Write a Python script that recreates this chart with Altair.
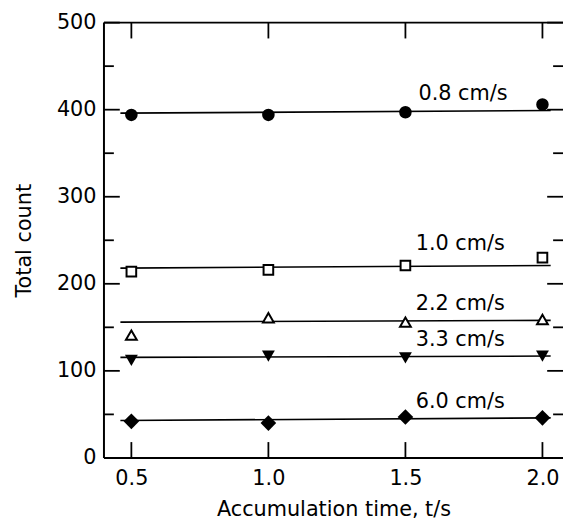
import altair as alt
import pandas as pd

# ---- data ----
times = [0.5, 1.0, 1.5, 2.0]
series = ["0.8 cm/s", "1.0 cm/s", "2.2 cm/s", "3.3 cm/s", "6.0 cm/s"]
c_08 = [394, 394, 397, 406]
c_10 = [214, 216, 221, 230]
c_22 = [141, 161, 156, 159]
c_33 = [112, 117, 115, 117]
c_60 = [42, 40, 47, 46]
fit_x = [0.46, 2.03]
fit_start = [396, 218, 156, 115.5, 43]
fit_end = [399, 221, 158, 117, 46]
label_x = [1.71, 1.70, 1.70, 1.70, 1.70]
label_y = [418, 246, 177, 135, 64]
x_ticks = [0.5, 1.0, 1.5, 2.0]
y_major = [0, 100, 200, 300, 400, 500]
y_minor = [50, 150, 250, 350, 450]

shapes = ["circle", "square", "triangle-up", "triangle-down", "diamond"]
sizes = [160, 95, 120, 170, 250]
filled = [True, False, False, True, True]

W, H = 464, 440
FONT = "DejaVu Sans"
xs = alt.Scale(domain=[0.4, 2.075], nice=False, zero=False)
ys = alt.Scale(domain=[0, 500], nice=False)
x_axis = alt.Axis(values=x_ticks, format=".1f", title="Accumulation time, t/s",
                  domain=False, ticks=False, grid=False, labelPadding=10, titlePadding=10)
y_axis = alt.Axis(values=y_major, title="Total count", domain=False,
                  ticks=False, grid=False, labelPadding=8, titlePadding=22)


def X(field):
    return alt.X(field, scale=xs, axis=x_axis)


def Y(field):
    return alt.Y(field, scale=ys, axis=y_axis)


all_counts = [c_08, c_10, c_22, c_33, c_60]
layers = []

# fitted lines
fit_df = pd.DataFrame({"s": series, "x0": [fit_x[0]] * 5, "x1": [fit_x[1]] * 5,
                       "y0": fit_start, "y1": fit_end})
layers.append(alt.Chart(fit_df).mark_rule(color="black", strokeWidth=1.6).encode(
    x=X("x0:Q"), x2="x1:Q", y=Y("y0:Q"), y2="y1:Q"))

# markers
for s, cs, sh, sz, f in zip(series, all_counts, shapes, sizes, filled):
    df = pd.DataFrame({"t": times, "c": cs})
    if f:
        mk = alt.Chart(df).mark_point(shape=sh, size=sz, filled=True, color="black", opacity=1)
    else:
        mk = alt.Chart(df).mark_point(shape=sh, size=sz, fill="white", stroke="black",
                                      strokeWidth=2, opacity=1, fillOpacity=1)
    layers.append(mk.encode(x=X("t:Q"), y=Y("c:Q")))

# series labels
lab_df = pd.DataFrame({"s": series, "x": label_x, "y": label_y})
layers.append(alt.Chart(lab_df).mark_text(font=FONT, fontSize=21, color="black").encode(
    x=X("x:Q"), y=Y("y:Q"), text="s:N"))

# frame (left, bottom, top)
frame_df = pd.DataFrame({"k": [0]})
frame = [
    dict(x=alt.value(0), x2=alt.value(0), y=alt.value(0), y2=alt.value(H)),
    dict(x=alt.value(0), x2=alt.value(W), y=alt.value(H)),
    dict(x=alt.value(0), x2=alt.value(W), y=alt.value(0)),
]
for enc in frame:
    layers.append(alt.Chart(frame_df).mark_rule(color="black", strokeWidth=2).encode(**enc))

# inward ticks
ymaj_df = pd.DataFrame({"v": y_major})
ymin_df = pd.DataFrame({"v": y_minor})
xt_df = pd.DataFrame({"v": x_ticks})
tk = dict(color="black", strokeWidth=1.8)
layers.append(alt.Chart(ymaj_df).mark_rule(**tk).encode(y=Y("v:Q"), x=alt.value(0), x2=alt.value(16)))
layers.append(alt.Chart(ymin_df).mark_rule(**tk).encode(y=Y("v:Q"), x=alt.value(0), x2=alt.value(10)))
layers.append(alt.Chart(ymaj_df).mark_rule(**tk).encode(y=Y("v:Q"), x=alt.value(W - 16), x2=alt.value(W)))
layers.append(alt.Chart(ymin_df).mark_rule(**tk).encode(y=Y("v:Q"), x=alt.value(W - 10), x2=alt.value(W)))
layers.append(alt.Chart(xt_df).mark_rule(**tk).encode(x=X("v:Q"), y=alt.value(H), y2=alt.value(H - 16)))
layers.append(alt.Chart(xt_df).mark_rule(**tk).encode(x=X("v:Q"), y=alt.value(0), y2=alt.value(16)))

chart = alt.layer(*layers).properties(
    width=W, height=H,
    autosize=alt.AutoSizeParams(type="none"),
    padding={"left": 97, "top": 12, "right": 0, "bottom": 62},
).configure_view(stroke=None).configure_axis(
    labelFont=FONT, labelFontSize=21, labelColor="black",
    titleFont=FONT, titleFontSize=21, titleColor="black", titleFontWeight="normal",
)

chart.save("out.html", embed_options={"renderer": "svg", "actions": False})
